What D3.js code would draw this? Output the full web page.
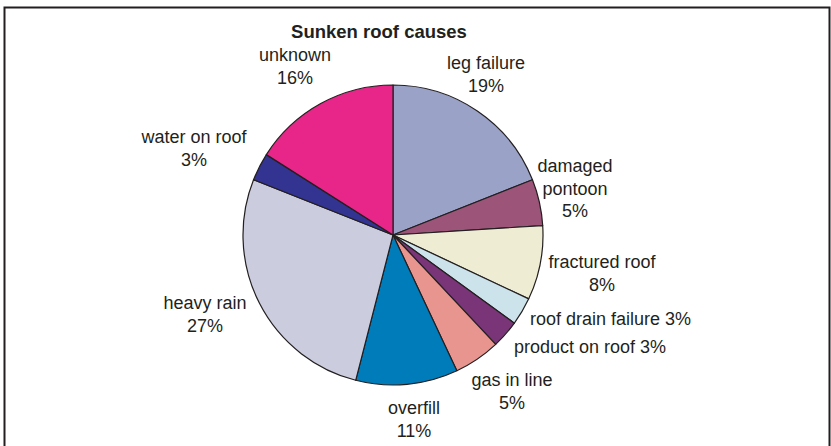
<!DOCTYPE html>
<html>
<head>
<meta charset="utf-8">
<script src="https://cdn.jsdelivr.net/npm/d3@7"></script>
<style>
  body { margin: 0; background: #fff; }
  text { font-family: "Liberation Sans", Arial, sans-serif; fill: #231f20; }
</style>
</head>
<body>
<div id="GraphHolder"></div>
<script>
// chart data
var causes = ["leg failure", "damaged pontoon", "fractured roof", "roof drain failure",
              "product on roof", "gas in line", "overfill", "heavy rain", "water on roof", "unknown"];
var shares = [19, 5, 8, 3, 3, 5, 11, 27, 3, 16];
var colours = ["#9aa2c8", "#9c5478", "#efecd4", "#cde3eb", "#7a3579",
               "#e8958f", "#007cbb", "#cbcddf", "#333391", "#e8268a"];

// label layout: [x, y of first baseline, anchor, lines]
var labelLayout = {
    "leg failure":        [486, 69,  "middle", ["leg failure", "19%"]],
    "damaged pontoon":    [575, 172, "middle", ["damaged", "pontoon", "5%"]],
    "fractured roof":     [602, 268, "middle", ["fractured roof", "8%"]],
    "roof drain failure": [530, 325, "start",  ["roof drain failure 3%"]],
    "product on roof":    [514, 353, "start",  ["product on roof 3%"]],
    "gas in line":        [512, 386, "middle", ["gas in line", "5%"]],
    "overfill":           [414, 414, "middle", ["overfill", "11%"]],
    "heavy rain":         [205, 309, "middle", ["heavy rain", "27%"]],
    "water on roof":      [194, 143, "middle", ["water on roof", "3%"]],
    "unknown":            [295, 61,  "middle", ["unknown", "16%"]]
};

var width = 831, height = 446;
var cx = 393, cy = 235, radius = 150;

var svg = d3.select("#GraphHolder").append("svg")
    .attr("width", width)
    .attr("height", height);

// frame (bottom edge runs off the picture)
svg.append("rect")
    .attr("x", 4.5)
    .attr("y", 7.5)
    .attr("width", 825)
    .attr("height", 460)
    .style("fill", "none")
    .style("stroke", "#231f20")
    .style("stroke-width", 2);

// title
svg.append("text")
    .attr("x", 379)
    .attr("y", 38)
    .attr("text-anchor", "middle")
    .style("font-size", "18.5px")
    .style("font-weight", "bold")
    .text("Sunken roof causes");

var data = causes.map(function(c, i) { return {cause: c, share: shares[i], colour: colours[i]}; });

var pie = d3.pie()
    .sort(null)
    .value(function(d) { return d.share; });

var arc = d3.arc()
    .innerRadius(0)
    .outerRadius(radius);

var g = svg.append("g")
    .attr("transform", "translate(" + cx + "," + cy + ")");

g.selectAll(".slice")
    .data(pie(data))
    .enter().append("path")
    .attr("class", "slice")
    .attr("d", arc)
    .style("fill", function(d) { return d.data.colour; })
    .style("stroke", "#231f20")
    .style("stroke-width", 1.2)
    .style("stroke-linejoin", "round");

// labels
data.forEach(function(d) {
    var l = labelLayout[d.cause];
    var t = svg.append("text")
        .attr("x", l[0])
        .attr("y", l[1])
        .attr("text-anchor", l[2])
        .style("font-size", "18px");
    l[3].forEach(function(line, i) {
        t.append("tspan")
            .attr("x", l[0])
            .attr("y", l[1] + i * 22.5)
            .text(line);
    });
});
</script>
</body>
</html>
